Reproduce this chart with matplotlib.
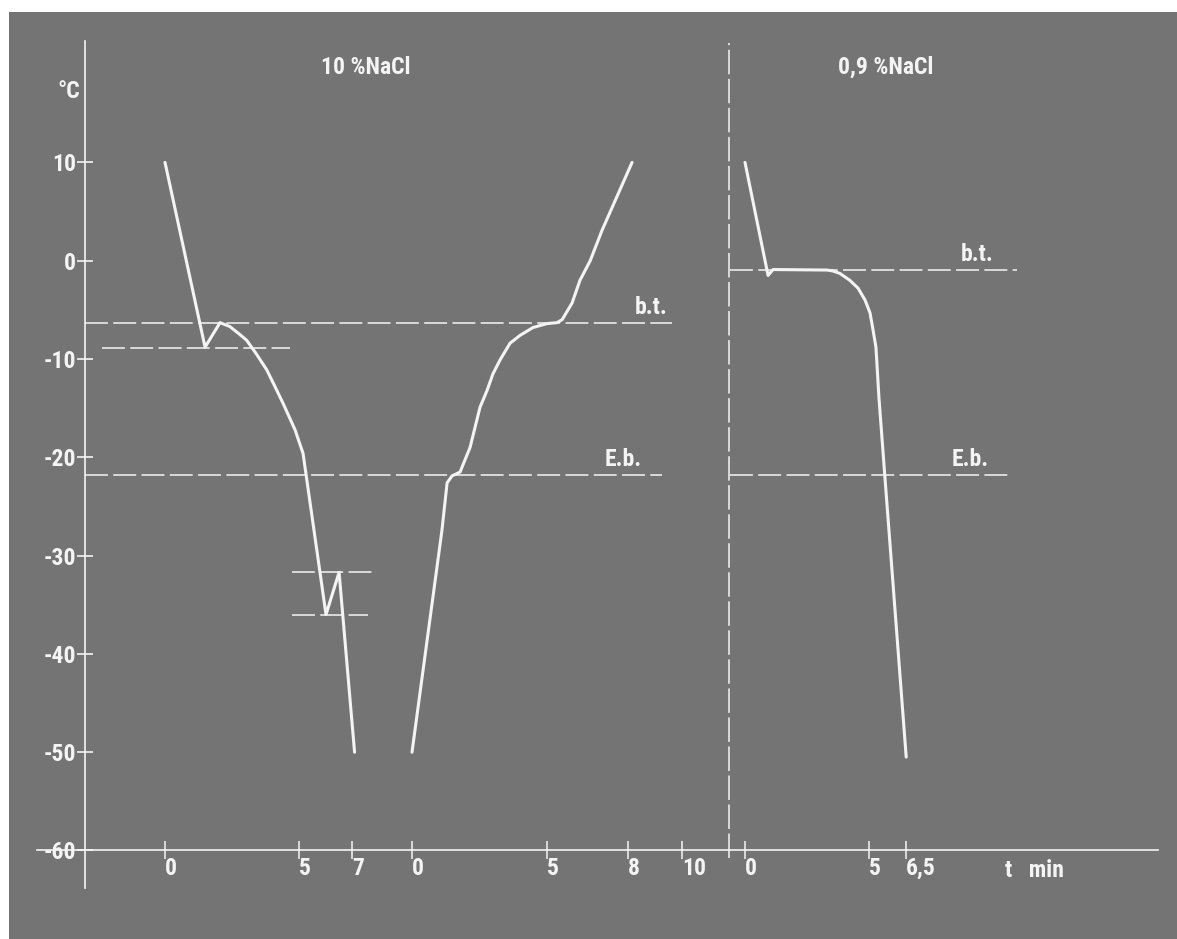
import matplotlib.pyplot as plt
from matplotlib.patches import Rectangle

# 10 % NaCl: Abkuehlen (t in min, T in Grad C)
t_cool = [0.0, 1.50, 2.06, 2.43, 2.80, 3.06, 3.40, 3.81, 4.10, 4.42, 4.87, 5.17, 6.03, 6.52, 7.10]
T_cool = [10, -8.8, -6.3, -6.7, -7.5, -8.1, -9.4, -11.1, -12.7, -14.5, -17.2, -19.6, -36.0, -31.7, -50.0]

# 10 % NaCl: Aufwaermen
t_warm = [0.0, 1.11, 1.30, 1.48, 1.78, 2.15, 2.52, 2.78, 3.00, 3.26, 3.63, 4.00, 4.48, 5.00,
          5.37, 5.56, 5.93, 6.22, 6.60, 7.04, 8.15]
T_warm = [-50, -27.4, -22.6, -21.9, -21.5, -19.0, -14.9, -13.2, -11.5, -10.1, -8.4, -7.6, -6.8, -6.4,
          -6.3, -6.0, -4.3, -2.0, 0.0, 3.1, 10.0]

# 0,9 % NaCl: Abkuehlen
t_iso = [0.0, 0.93, 1.13, 3.31, 3.55, 3.83, 4.23, 4.56, 4.84, 5.04, 5.16, 5.28, 5.40, 5.65, 6.50]
T_iso = [10, -1.5, -0.9, -0.95, -1.05, -1.3, -2.0, -2.8, -4.0, -5.3, -7.0, -8.8, -13.9, -22.3, -50.5]

# Referenzlinien
bt_10 = -6.3      # b.t. 10 %
dip_10 = -8.9     # Unterkuehlung 10 %
eb = -21.8        # E.b.
eut_hi = -31.7
eut_lo = -36.0
bt_09 = -0.9      # b.t. 0,9 %

y_ticks = [10, 0, -10, -20, -30, -40, -50, -60]
y_labels = ["10", "0", "-10", "-20", "-30", "-40", "-50", "-60"]
x_ticks_1 = [0, 5, 7]
x_ticks_2 = [0, 5, 8, 10]
x_ticks_3 = [0, 5, 6.5]
x_labels_3 = ["0", "5", "6,5"]

W, H = 1177, 939
BG = "#747474"
FG = "#f4f4f4"
plt.rcParams["font.family"] = ["Roboto Condensed", "DejaVu Sans"]
plt.rcParams["font.weight"] = "bold"
plt.rcParams["font.stretch"] = "condensed"

fig = plt.figure(figsize=(W / 100, H / 100), dpi=100, facecolor="white")
fig.add_artist(Rectangle((9 / W, 0), 1, (H - 12) / H, transform=fig.transFigure,
                         facecolor=BG, edgecolor="none", zorder=0))

# Pixel -> Daten (y: 0 Grad bei 260.7 px, 9.83 px/Grad)
y0, ys = 260.7, 9.83
ylim = ((y0 - H) / ys, y0 / ys)


def panel(x0, xs):
    ax = fig.add_axes([0, 0, 1, 1])
    ax.set_xlim(-x0 / xs, (W - x0) / xs)
    ax.set_ylim(*ylim)
    ax.patch.set_visible(False)
    for s in ax.spines.values():
        s.set_visible(False)
    ax.spines["bottom"].set_position(("data", -60))
    ax.set_yticks([])
    ax.tick_params(axis="x", direction="inout", length=13, width=1.1, color=FG,
                   labelcolor=FG, labelsize=17, pad=-2)
    return ax


ax1 = panel(165, 26.7)
ax2 = panel(412, 27.0)
ax3 = panel(745, 24.8)

# Achsen
ax1.spines["bottom"].set_visible(True)
ax1.spines["bottom"].set_bounds(-4.79, 37.2)
ax1.spines["left"].set_visible(True)
ax1.spines["left"].set_position(("data", -3.0))
ax1.spines["left"].set_bounds(-63.8, 22.4)
for s in ("bottom", "left"):
    ax1.spines[s].set_color(FG)
    ax1.spines[s].set_linewidth(1.2)
ax1.set_yticks(y_ticks, y_labels)
ax1.tick_params(axis="y", direction="inout", length=11, width=1.2, color=FG,
                labelcolor=FG, labelsize=17, pad=1)

ax1.set_xticks(x_ticks_1, [str(v) for v in x_ticks_1])
ax2.set_xticks(x_ticks_2, [str(v) for v in x_ticks_2])
ax3.set_xticks(x_ticks_3, x_labels_3)
for ax in (ax1, ax2, ax3):
    for lbl in ax.get_xticklabels():
        lbl.set_ha("left")

dash = dict(color=FG, lw=1.1, dashes=(15, 3.5))

# gestrichelte Niveaus 10 %
ax1.plot([-3.0, 19.0], [bt_10, bt_10], **dash)
ax1.plot([-2.36, 4.68], [dip_10, dip_10], **dash)
ax1.plot([-3.0, 18.6], [eb, eb], **dash)
ax1.plot([4.76, 7.79], [eut_hi, eut_hi], **dash)
ax1.plot([4.76, 7.6], [eut_lo, eut_lo], **dash)

# 0,9 %: Trennlinie und Niveaus
ax3.plot([-0.65, -0.65], [-60.8, 22.1], color=FG, lw=1.1, dashes=(16, 3))
ax3.plot([-0.6, 10.95], [bt_09, bt_09], **dash)
ax3.plot([-0.6, 10.7], [eb, eb], **dash)

# Kurven
kw = dict(color=FG, lw=2.2, solid_joinstyle="round", solid_capstyle="round")
ax1.plot(t_cool, T_cool, **kw)
ax2.plot(t_warm, T_warm, **kw)
ax3.plot(t_iso, T_iso, **kw)

txt = dict(color=FG, fontsize=17, fontweight="bold")
ax1.text(18.2, bt_10 + 0.4, "b.t.", ha="center", va="bottom", **txt)
ax1.text(17.15, eb + 0.4, "E.b.", ha="center", va="bottom", **txt)
ax3.text(9.35, bt_09 + 0.4, "b.t.", ha="center", va="bottom", **txt)
ax3.text(9.07, eb + 0.4, "E.b.", ha="center", va="bottom", **txt)

ax1.text(7.53, 19.7, "10 %NaCl", ha="center", va="center", **txt)
ax3.text(5.69, 19.7, "0,9 %NaCl", ha="center", va="center", **txt)
ax1.text(-3.6, 17.2, "°C", ha="center", va="center", **txt)
ax3.text(10.5, -62.0, "t   min", ha="left", va="center", **txt)

fig.savefig("out.png", dpi=100, facecolor="white")
